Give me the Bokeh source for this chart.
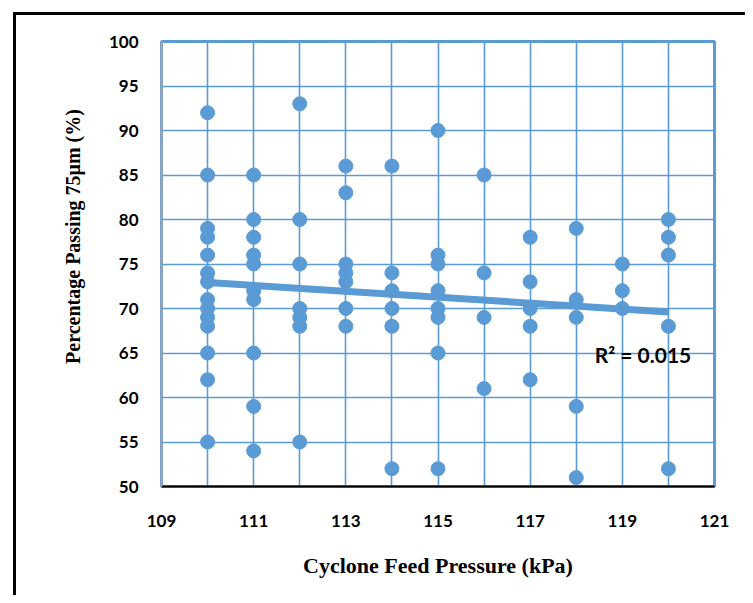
import numpy as np
from bokeh.plotting import figure
from bokeh.layouts import column
from bokeh.models import FixedTicker, Label, Range1d
from bokeh.embed import file_html
from bokeh.resources import INLINE

pressure_110 = [92, 85, 79, 78, 76, 74, 73, 71, 70, 69, 68, 65, 62, 55]
pressure_111 = [85, 80, 78, 76, 75, 72, 71, 65, 59, 54]
pressure_112 = [93, 80, 75, 70, 69, 68, 55]
pressure_113 = [86, 83, 75, 74, 73, 70, 68]
pressure_114 = [86, 74, 72, 70, 68, 52]
pressure_115 = [90, 76, 75, 72, 70, 69, 65, 52]
pressure_116 = [85, 74, 69, 61]
pressure_117 = [78, 73, 70, 68, 62]
pressure_118 = [79, 71, 69, 59, 51]
pressure_119 = [75, 72, 70]
pressure_120 = [80, 78, 76, 68, 52]

groups = {110: pressure_110, 111: pressure_111, 112: pressure_112, 113: pressure_113,
          114: pressure_114, 115: pressure_115, 116: pressure_116, 117: pressure_117,
          118: pressure_118, 119: pressure_119, 120: pressure_120}

x_ticks = [109, 111, 113, 115, 117, 119, 121]
y_ticks = [50, 55, 60, 65, 70, 75, 80, 85, 90, 95, 100]
r2_text = "R\u00b2 = 0.015"

xs, ys = [], []
for k, vals in groups.items():
    xs += [k] * len(vals)
    ys += vals
xs = np.array(xs, float)
ys = np.array(ys, float)
slope, intercept = np.polyfit(xs, ys, 1)
tx = np.array([xs.min(), xs.max()])
ty = slope * tx + intercept

BLUE = "#5B9BD5"
CX, CY = 16, 15          # canvas origin on page
W, H = 729, 580
p = figure(width=W, height=H, output_backend="svg", toolbar_location=None,
           x_range=Range1d(109, 121), y_range=Range1d(50, 100),
           min_border_left=161 - CX, min_border_top=41 - CY,
           min_border_right=CX + W - 714, min_border_bottom=CY + H - 486)

p.scatter(xs, ys, size=14, color=BLUE)
p.line(tx, ty, line_width=7, color=BLUE)

p.xaxis.ticker = FixedTicker(ticks=x_ticks)
p.yaxis.ticker = FixedTicker(ticks=y_ticks)
p.xgrid.ticker = FixedTicker(ticks=list(range(109, 122)))
p.ygrid.ticker = FixedTicker(ticks=y_ticks)
for g in (p.xgrid, p.ygrid):
    g.grid_line_color = BLUE
    g.grid_line_width = 1.6

p.outline_line_color = BLUE
p.outline_line_width = 3
p.outline_line_alpha = 1

for ax in (p.xaxis, p.yaxis):
    ax.major_tick_line_color = None
    ax.minor_tick_line_color = None
    ax.major_label_text_font = "Lato"
    ax.major_label_text_font_style = "bold"
    ax.major_label_text_font_size = "17px"
    ax.major_label_text_color = "black"
    ax.axis_label_text_font = "Liberation Serif"
    ax.axis_label_text_font_style = "bold"
    ax.axis_label_text_color = "black"
p.xaxis.axis_line_color = "black"
p.xaxis.axis_line_width = 2
p.yaxis.axis_line_color = "#A6A6A6"
p.yaxis.axis_line_width = 2
p.xaxis.major_label_standoff = 22
p.yaxis.major_label_standoff = 17

p.xaxis.axis_label = "Cyclone Feed Pressure (kPa)"
p.xaxis.axis_label_text_font_size = "22px"
p.xaxis.axis_label_standoff = 23

p.yaxis.axis_label = "\u00a0" * 11 + "Percentage Passing 75\u03bcm (%)"
p.yaxis.axis_label_text_font_size = "20px"
p.yaxis.axis_label_standoff = 22

p.add_layout(Label(x=118.4, y=64.8, text=r2_text, text_align="left",
                   text_baseline="middle", text_font="Lato", text_font_style="bold",
                   text_font_size="21px", text_color="black"))

root = column(p, styles={"margin-left": "13px", "margin-top": "12px",
                         "border-left": "3px solid black",
                         "border-top": "3px solid black"})

open("out.html", "w").write(file_html(root, INLINE))
